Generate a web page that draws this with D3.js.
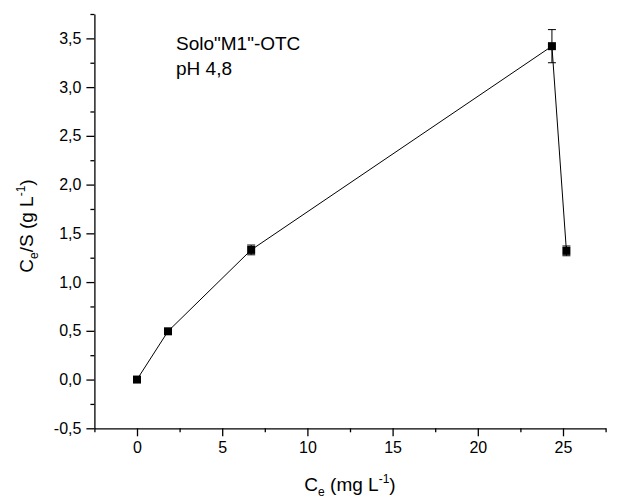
<!DOCTYPE html>
<html>
<head>
<meta charset="utf-8">
<script src="https://cdn.jsdelivr.net/npm/d3@7"></script>
<style>
  html, body { margin: 0; padding: 0; background: #fff; }
  svg { display: block; font-family: Arial, "Liberation Sans", sans-serif; }
</style>
</head>
<body>
<svg id="chart" width="641" height="500"></svg>
<script>
// ---- data ----
const ceValues = [0, 1.82, 6.7, 24.35, 25.2];          // Ce (mg L-1)
const ceSValues = [0, 0.495, 1.33, 3.42, 1.32];        // Ce/S (g L-1)
const ceSErrors = [0, 0, 0.05, 0.17, 0.05];            // error bars
const xMajorTicks = [0, 5, 10, 15, 20, 25];
const xMinorTicks = [-2.5, 2.5, 7.5, 12.5, 17.5, 22.5, 27.5];
const yMajorTicks = [-0.5, 0, 0.5, 1, 1.5, 2, 2.5, 3, 3.5];
const yMinorTicks = [-0.25, 0.25, 0.75, 1.25, 1.75, 2.25, 2.75, 3.25, 3.75];
const annotationLines = ['Solo"M1"-OTC', 'pH 4,8'];

// ---- layout ----
const svg = d3.select("#chart");
const x = d3.scaleLinear().domain([-2.5, 27.5]).range([94.4, 605.6]);
const y = d3.scaleLinear().domain([-0.5, 3.75]).range([428.3, 14]);
const locale = d3.formatLocale({decimal: ",", thousands: ".", grouping: [3], currency: ["", ""], minus: "-"});
const fmtY = locale.format(".1f");
const fmtX = locale.format("d");

const y0 = y.range()[0];
const x0 = x.range()[0];

// minor ticks (drawn first)
svg.append("g").attr("transform", `translate(0,${y0})`)
  .call(d3.axisBottom(x).tickValues(xMinorTicks).tickSize(4).tickSizeOuter(0).tickFormat(""))
  .call(g => g.select(".domain").remove());
svg.append("g").attr("transform", `translate(${x0},0)`)
  .call(d3.axisLeft(y).tickValues(yMinorTicks).tickSize(4).tickSizeOuter(0).tickFormat(""))
  .call(g => g.select(".domain").remove());

// major axes
svg.append("g").attr("transform", `translate(0,${y0})`)
  .call(d3.axisBottom(x).tickValues(xMajorTicks).tickSize(8).tickSizeOuter(0).tickPadding(5).tickFormat(fmtX));
svg.append("g").attr("transform", `translate(${x0},0)`)
  .call(d3.axisLeft(y).tickValues(yMajorTicks).tickSize(8).tickSizeOuter(0).tickPadding(5).tickFormat(fmtY));

svg.selectAll(".tick line, .domain").attr("stroke", "#000").attr("stroke-width", 1.3);
svg.selectAll(".tick text").attr("fill", "#000").attr("font-size", 16)
  .attr("font-family", 'Arial, "Liberation Sans", sans-serif');

// axis titles
const xt = svg.append("text").attr("x", 350).attr("y", 491)
  .attr("text-anchor", "middle").attr("font-size", 19).attr("fill", "#000");
xt.append("tspan").text("C");
xt.append("tspan").attr("font-size", 12).attr("dy", 5).text("e");
xt.append("tspan").attr("dy", -5).text(" (mg L");
xt.append("tspan").attr("font-size", 12).attr("dy", -8).text("-1");
xt.append("tspan").attr("dy", 8).text(")");

const yt = svg.append("text").attr("transform", "translate(33,226) rotate(-90)")
  .attr("text-anchor", "middle").attr("font-size", 19).attr("fill", "#000");
yt.append("tspan").text("C");
yt.append("tspan").attr("font-size", 12).attr("dy", 5).text("e");
yt.append("tspan").attr("dy", -5).text("/S (g L");
yt.append("tspan").attr("font-size", 12).attr("dy", -8).text("-1");
yt.append("tspan").attr("dy", 8).text(")");

// annotation
svg.append("g").selectAll("text").data(annotationLines).join("text")
  .attr("x", 176).attr("y", (d, i) => 50 + i * 25)
  .attr("font-size", 19).attr("fill", "#000").text(d => d);

// data
const pts = ceValues.map((v, i) => ({x: v, y: ceSValues[i], e: ceSErrors[i]}));

svg.append("path").datum(pts)
  .attr("fill", "none").attr("stroke", "#000").attr("stroke-width", 1)
  .attr("d", d3.line().x(d => x(d.x)).y(d => y(d.y)));

const eb = svg.append("g").attr("stroke", "#000").attr("stroke-width", 1);
pts.filter(d => d.e > 0).forEach(d => {
  const cx = x(d.x);
  eb.append("line").attr("x1", cx).attr("x2", cx).attr("y1", y(d.y - d.e)).attr("y2", y(d.y + d.e));
  eb.append("line").attr("x1", cx - 4).attr("x2", cx + 4).attr("y1", y(d.y + d.e)).attr("y2", y(d.y + d.e));
  eb.append("line").attr("x1", cx - 4).attr("x2", cx + 4).attr("y1", y(d.y - d.e)).attr("y2", y(d.y - d.e));
});

svg.append("g").selectAll("rect").data(pts).join("rect")
  .attr("x", d => x(d.x) - 4).attr("y", d => y(d.y) - 4)
  .attr("width", 8).attr("height", 8).attr("fill", "#000");
</script>
</body>
</html>
